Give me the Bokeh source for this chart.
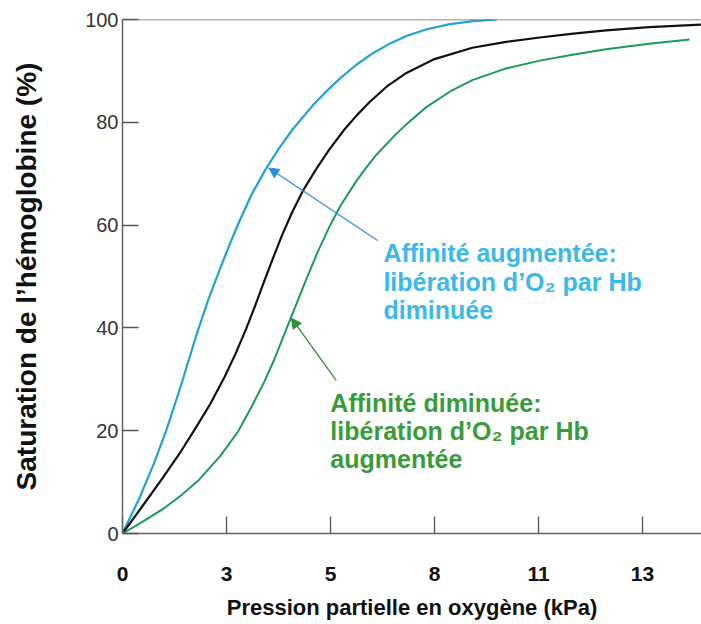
from bokeh.plotting import figure
from bokeh.models import Range1d, FixedTicker, Span, Arrow, NormalHead, ColumnDataSource
from bokeh.core.properties import value
from bokeh.embed import file_html
from bokeh.resources import INLINE

# ---- data ----
# normal curve (black)
p_normal = [0, 0.5, 1.0, 1.5, 1.85, 2.25, 2.62, 2.9, 3.17, 3.4, 3.62, 3.85, 4.1, 4.35, 4.62,
            5.0, 5.3, 5.69, 6.0, 6.33, 6.8, 7.28, 8.0, 8.97, 9.8, 10.7, 11.5, 12.4, 13.5, 14.85]
sat_normal = [0, 5.2, 10.5, 16, 20.2, 25.2, 30.5, 35, 39.8, 44.3, 48.8, 53.4, 58.2, 62.5, 66.6,
              71.3, 74.7, 78.6, 81.3, 83.9, 87.1, 89.6, 92.3, 94.5, 95.6, 96.5, 97.2, 97.9, 98.5, 99.0]

# affinité augmentée (blue)
p_high = [0, 0.44, 0.8, 1.12, 1.5, 1.89, 2.2, 2.5, 2.75, 3.0, 3.3, 3.65, 4.0, 4.36, 4.88,
          5.25, 5.6, 6.0, 6.41, 6.85, 7.28, 7.8, 8.4, 9.0, 9.6]
sat_high = [0, 7, 13.5, 20, 28.8, 38.5, 45.5, 51.5, 56.3, 60.8, 65.8, 70.6, 74.8, 78.6, 83.3,
            86.2, 88.7, 91.2, 93.4, 95.3, 96.8, 98.1, 99.1, 99.7, 100]

# affinité diminuée (green)
p_low = [0, 0.5, 1.08, 1.5, 1.93, 2.5, 2.96, 3.3, 3.64, 3.9, 4.15, 4.45, 4.72, 5.0, 5.3,
         5.6, 6.0, 6.22, 6.5, 7.0, 7.28, 7.8, 8.4, 8.97, 9.8, 10.7, 11.5, 12.4, 13.5, 14.54]
sat_low = [0, 2.2, 5, 7.4, 10.2, 15, 19.8, 24.5, 29.6, 34, 38.8, 44.5, 49.6, 54.7, 59.6,
           63.9, 68.6, 70.9, 73.6, 77.6, 79.6, 83, 86, 88.2, 90.4, 92, 93.1, 94.2, 95.3, 96.1]

x_ticks = [i * 8 / 3 for i in range(6)]
x_tick_labels = ["0", "3", "5", "8", "11", "13"]
y_ticks = [0, 20, 40, 60, 80, 100]

blue_lines = ["Affinité augmentée:", "libération d’O₂ par Hb", "diminuée"]
green_lines = ["Affinité diminuée:", "libération d’O₂ par Hb", "augmentée"]

FONT = "Liberation Sans"
C_BLUE_CURVE = "#22a2d4"
C_GREEN_CURVE = "#1b9a5e"
C_BLUE_TEXT = "#3cb8ea"
C_GREEN_TEXT = "#3a9b3c"

W, H = 701, 622
p = figure(width=W, height=H, output_backend="svg", toolbar_location=None,
           x_range=Range1d(0, (W - 122) / 39), y_range=Range1d(0, 100),
           min_border_left=122, min_border_right=0, min_border_top=19, min_border_bottom=H - 533)
p.outline_line_color = None
p.grid.visible = False
p.background_fill_color = "white"
p.border_fill_color = "white"

# curves
p.line(p_high, sat_high, line_color=C_BLUE_CURVE, line_width=2.2, line_join="round")
p.line(p_normal, sat_normal, line_color="#111111", line_width=2.2, line_join="round")
p.line(p_low, sat_low, line_color=C_GREEN_CURVE, line_width=2.0, line_join="round")

# top frame line
p.add_layout(Span(location=100, dimension="width", line_color="#666666", line_width=1.5))

# axes
xa = p.xaxis[0]
xa.ticker = FixedTicker(ticks=x_ticks)
xa.major_label_overrides = {t: l for t, l in zip(x_ticks, x_tick_labels)}
xa.major_tick_in = 17
xa.major_tick_out = 0
xa.minor_tick_in = 0
xa.minor_tick_out = 0
xa.axis_line_color = "#666666"
xa.axis_line_width = 1.5
xa.major_tick_line_color = "#555555"
xa.major_tick_line_width = 1.3
xa.major_label_text_font = FONT
xa.major_label_text_font_style = "bold"
xa.major_label_text_font_size = "21px"
xa.major_label_text_color = "#111111"
xa.major_label_standoff = 33
xa.axis_label = "Pression partielle en oxygène (kPa)"
xa.axis_label_text_font = FONT
xa.axis_label_text_font_style = "bold"
xa.axis_label_text_font_size = "22px"
xa.axis_label_text_color = "#111111"
xa.axis_label_standoff = 11

ya = p.yaxis[0]
ya.ticker = FixedTicker(ticks=y_ticks)
ya.major_tick_in = 16
ya.major_tick_out = 0
ya.minor_tick_in = 0
ya.minor_tick_out = 0
ya.axis_line_color = "#666666"
ya.axis_line_width = 1.5
ya.major_tick_line_color = "#555555"
ya.major_tick_line_width = 1.3
ya.major_label_text_font = FONT
ya.major_label_text_font_size = "20px"
ya.major_label_text_color = "#333333"
ya.major_label_standoff = 4
ya.axis_label = "Saturation de l’hémoglobine (%)"
ya.axis_label_text_font = FONT
ya.axis_label_text_font_style = "bold"
ya.axis_label_text_font_size = "28px"
ya.axis_label_text_color = "#111111"
ya.axis_label_standoff = 40

# annotations
blue_src = ColumnDataSource(dict(x=[6.69] * 3, y=[54.5, 49.0, 43.4], t=blue_lines))
green_src = ColumnDataSource(dict(x=[5.33] * 3, y=[25.3, 20.0, 14.4], t=green_lines))
p.text(x="x", y="y", text="t", source=blue_src, text_font=value(FONT), text_font_style="bold",
       text_font_size="25px", text_color=C_BLUE_TEXT, text_baseline="alphabetic", text_align="left")
p.text(x="x", y="y", text="t", source=green_src, text_font=value(FONT), text_font_style="bold",
       text_font_size="25px", text_color=C_GREEN_TEXT, text_baseline="alphabetic", text_align="left")

p.add_layout(Arrow(end=NormalHead(size=10, fill_color="#2e8fe0", line_color="#2e8fe0"),
                   x_start=6.54, y_start=57.0, x_end=3.75, y_end=71.1,
                   line_color="#2e8fe0", line_width=1.3))
p.add_layout(Arrow(end=NormalHead(size=10, fill_color="#2f8f3a", line_color="#2f8f3a"),
                   x_start=5.48, y_start=29.8, x_end=4.33, y_end=41.9,
                   line_color="#2f8f3a", line_width=1.3))

open("out.html", "w").write(file_html(p, INLINE))
